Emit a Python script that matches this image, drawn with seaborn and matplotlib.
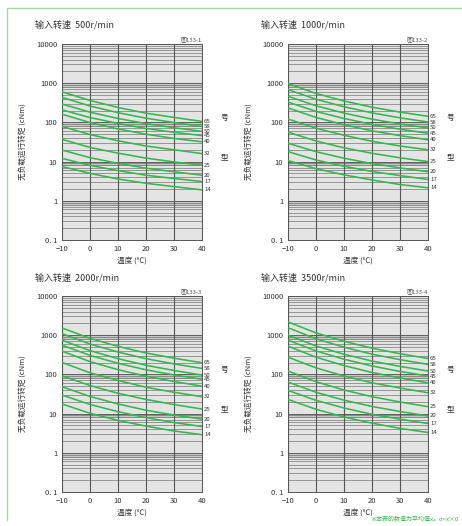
import pandas as pd
import seaborn as sns
import matplotlib.pyplot as plt
from matplotlib.lines import Line2D
from matplotlib.ticker import NullLocator

# temperature points (°C) and model sizes
temps = [-10, 0, 10, 20, 30, 40]
models = ['65', '58', '50', '45', '40', '32', '25', '20', '17', '14']
speeds = ['500', '1000', '2000', '3500']
fig_ids = ['图133-1', '图133-2', '图133-3', '图133-4']

# no-load running torque (cNm), one row per model
torque_500 = [
    [603, 363, 240, 172, 134, 106],
    [436, 262, 177, 128, 99, 79],
    [295, 182, 126, 93, 73, 59],
    [209, 133, 94, 70, 56, 46],
    [162, 99, 68, 50, 39, 32],
    [79, 49, 34, 25, 20, 16],
    [37, 23, 16.4, 12.3, 9.8, 8.1],
    [19.7, 12.6, 9.0, 6.8, 5.5, 4.5],
    [12.1, 8.0, 5.9, 4.5, 3.7, 3.1],
    [7.5, 5.0, 3.6, 2.8, 2.3, 1.9],
]
torque_1000 = [
    [977, 548, 352, 244, 183, 143],
    [689, 389, 251, 175, 131, 102],
    [464, 265, 173, 121, 91, 72],
    [331, 191, 126, 89, 67, 53],
    [234, 134, 87, 61, 46, 36],
    [122, 71, 47, 33, 25, 20],
    [56.5, 33.6, 22.5, 16.3, 12.5, 10],
    [29.5, 17.9, 12.2, 8.9, 6.9, 5.5],
    [18, 11, 7.6, 5.6, 4.4, 3.5],
    [10.6, 6.6, 4.6, 3.4, 2.6, 2.15],
]
torque_2000 = [
    [1535, 830, 519, 352, 259, 198],
    [1096, 594, 372, 252, 185, 142],
    [746, 404, 252, 171, 126, 96],
    [557, 305, 192, 131, 97, 75],
    [392, 212, 132, 90, 66, 50],
    [202, 110, 70, 47, 35, 27],
    [92, 52, 33, 23, 17, 13.1],
    [48.5, 27.4, 17.6, 12.2, 9.2, 7.2],
    [29.8, 17.1, 11.2, 7.9, 5.9, 4.7],
    [17.6, 10.2, 6.7, 4.8, 3.6, 2.9],
]
torque_3500 = [
    [2185, 1146, 700, 466, 337, 255],
    [1550, 811, 494, 328, 238, 180],
    [1000, 532, 327, 219, 160, 122],
    [746, 397, 244, 164, 119, 91],
    [525, 275, 168, 112, 81, 61],
    [275, 147, 91, 61, 45, 34],
    [122, 65, 40, 27, 19.8, 15],
    [64, 35, 22, 15.2, 11.3, 8.7],
    [39, 21.8, 13.9, 9.6, 7.2, 5.6],
    [23, 12.9, 8.2, 5.7, 4.2, 3.3],
]
all_torque = [torque_500, torque_1000, torque_2000, torque_3500]

sns.set_style('white')
plt.rcParams['font.family'] = ['Noto Sans CJK SC', 'DejaVu Sans']
plt.rcParams['axes.unicode_minus'] = True

fig = plt.figure(figsize=(4.62, 5.26), dpi=100)

W, H = 140 / 462, 196 / 526
boxes = [(62 / 462, 1 - 240 / 526), (288 / 462, 1 - 240 / 526),
         (62 / 462, 1 - 492 / 526), (288 / 462, 1 - 492 / 526)]
title_pos = [(35, 25), (261, 25), (35, 278), (261, 278)]

green = '#33b84a'
txt = '#333333'

for i in range(4):
    rows = []
    for m, vals in zip(models, all_torque[i]):
        for t, v in zip(temps, vals):
            rows.append({'model': m, 'temp': t, 'torque': v})
    df = pd.DataFrame(rows)

    ax = fig.add_axes([boxes[i][0], boxes[i][1], W, H])
    ax.set_facecolor('#e4e4e4')
    ax.set_yscale('log')

    # dark bands under each decade + horizontal rulings
    for k in range(-1, 4):
        ax.axhspan(0.75 * 10 ** k, 10 ** k, color='#c6c6c6', lw=0, zorder=0)
        for m in range(2, 10):
            ax.axhline(m * 10 ** k, color='#6a6a6a', lw=0.45, zorder=1)
    for k in range(-1, 5):
        ax.axhline(10 ** k, color='#505050', lw=0.6, zorder=1)
    for t in temps:
        ax.axvline(t, color='#555555', lw=0.8, zorder=1)

    sns.lineplot(data=df, x='temp', y='torque', units='model', estimator=None,
                 color=green, lw=1.15, ax=ax, legend=False, zorder=3)

    ax.set_xlim(-10, 40)
    ax.set_ylim(0.1, 10000)
    ax.set_xticks(temps)
    ax.set_yticks([0.1, 1, 10, 100, 1000, 10000],
                  labels=['0. 1', '1', '10', '100', '1000', '10000'])
    ax.yaxis.set_minor_locator(NullLocator())
    ax.tick_params(labelsize=5.5, length=2, width=0.5, colors=txt, pad=1.5)
    for s in ax.spines.values():
        s.set_color('#555555')
        s.set_linewidth(0.7)

    ax.set_xlabel('温度 (℃)', fontsize=5.5, color=txt, labelpad=3)
    ax.set_ylabel('无负载运行转矩 (cNm)', fontsize=5.5, color=txt, labelpad=6)

    # model labels at the right end of each curve
    for m, vals in zip(models, all_torque[i]):
        ax.text(1.015, vals[-1], m, transform=ax.get_yaxis_transform(),
                fontsize=4.3, color=txt, va='center', ha='left')
    ax.text(1.13, 0.62, '号', transform=ax.transAxes, fontsize=5.5, color=txt,
            va='center')
    ax.text(1.13, 0.42, '型', transform=ax.transAxes, fontsize=5.5, color=txt,
            va='center')
    ax.text(1.0, 1.01, fig_ids[i], transform=ax.transAxes, fontsize=4.3,
            color='#555555', ha='right', va='bottom')

    tx, ty = title_pos[i]
    fig.text(tx / 462, 1 - ty / 526, '输入转速  ' + speeds[i] + 'r/min',
             fontsize=6.5, color=txt, va='center')

# light green page frame
frame = '#9edc9e'
fig.add_artist(Line2D([7 / 462, 1.0], [1 - 8 / 526, 1 - 8 / 526], color=frame, lw=1))
fig.add_artist(Line2D([7 / 462, 7 / 462], [1 - 8 / 526, 0.012], color=frame, lw=1))

fig.text(458 / 462, 1 - 519 / 526, '※本表的数值为平均值x̄。σ=x̄×0',
         fontsize=4.3, color=green, va='center', ha='right')

fig.savefig('out.png', dpi=100)
